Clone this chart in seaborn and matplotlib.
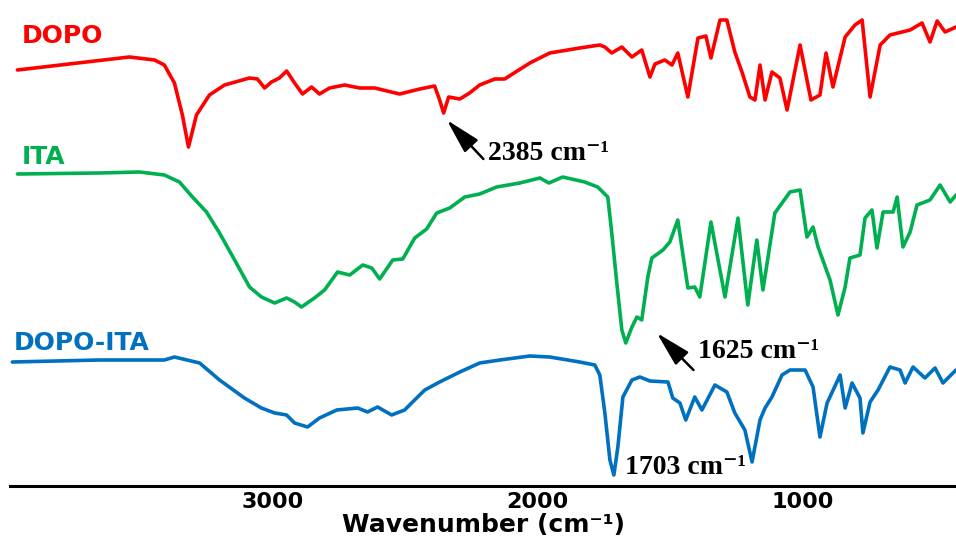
import numpy as np
import pandas as pd
import matplotlib
matplotlib.use("Agg")
import matplotlib.pyplot as plt
import seaborn as sns

# FTIR spectra (wavenumber in cm-1, transmittance in arbitrary units)
dopo_wn = [3962, 3540, 3445, 3408, 3370, 3340, 3317, 3287, 3238, 3181, 3087, 3057, 3030, 3004,
           2974, 2947, 2917, 2887, 2853, 2823, 2785, 2728, 2672, 2615, 2521, 2445, 2389, 2370,
           2355, 2336, 2294, 2257, 2219, 2162, 2125, 2030, 1955, 1842, 1766, 1747, 1721, 1683,
           1645, 1608, 1577, 1558, 1521, 1494, 1472, 1434, 1396, 1366, 1347, 1313, 1287, 1257,
           1230, 1200, 1181, 1162, 1143, 1117, 1087, 1060, 1011, 970, 936, 913, 887, 841, 804,
           777, 747, 709, 672, 596, 551, 521, 494, 464, 423]
dopo_t = [86, 99, 96, 91, 73, 41, 9, 41, 61, 71, 78, 77, 68, 74,
          78, 85, 73, 62, 69, 62, 68, 71, 68, 68, 62, 67, 70, 56,
          43, 59, 57, 63, 71, 77, 77, 93, 103, 108, 111, 109, 103, 109,
          99, 106, 79, 92, 96, 91, 103, 59, 118, 120, 98, 136, 136, 104,
          84, 59, 56, 91, 56, 84, 78, 46, 111, 56, 61, 103, 69, 119, 131,
          136, 59, 111, 121, 126, 133, 114, 135, 124, 129]

ita_wn = [3962, 3653, 3502, 3408, 3351, 3302, 3249, 3200, 3143, 3087, 3042, 2992, 2947, 2917,
          2891, 2842, 2804, 2755, 2709, 2660, 2626, 2596, 2547, 2509, 2464, 2419, 2381, 2332,
          2275, 2219, 2155, 2068, 1992, 1958, 1906, 1823, 1774, 1736, 1721, 1702, 1683, 1668,
          1645, 1626, 1608, 1585, 1570, 1528, 1502, 1472, 1434, 1408, 1389, 1347, 1294, 1245,
          1208, 1174, 1151, 1106, 1049, 1011, 985, 962, 943, 898, 868, 841, 823, 785, 766,
          740, 721, 698, 660, 645, 623, 596, 570, 521, 483, 445, 423]
ita_t = [182, 183, 184, 181, 174, 159, 144, 123, 96, 69, 59, 53, 58, 54,
         49, 58, 66, 84, 81, 91, 88, 77, 96, 97, 118, 127, 143, 148,
         159, 162, 169, 173, 178, 173, 179, 174, 169, 159, 123, 73, 26, 13,
         29, 39, 36, 79, 98, 106, 114, 136, 68, 69, 59, 134, 59, 138,
         51, 116, 66, 143, 164, 166, 119, 129, 109, 76, 41, 69, 98, 101, 138,
         146, 108, 144, 144, 159, 109, 124, 151, 156, 171, 154, 161]

dopo_ita_wn = [3981, 3653, 3408, 3370, 3275, 3200, 3106, 3042, 2992, 2947, 2917, 2868, 2823,
               2758, 2679, 2642, 2604, 2551, 2502, 2472, 2426, 2370, 2294, 2219, 2143, 2030,
               1955, 1842, 1785, 1766, 1747, 1728, 1713, 1698, 1679, 1645, 1615, 1577, 1509,
               1491, 1464, 1442, 1408, 1381, 1332, 1287, 1257, 1219, 1192, 1162, 1143, 1117,
               1079, 1049, 992, 962, 936, 909, 860, 841, 815, 785, 774, 747, 717, 672, 634,
               615, 585, 540, 502, 472, 423]
dopo_ita_t = [124, 126, 126, 129, 123, 106, 88, 78, 73, 71, 63, 59, 68,
              76, 78, 74, 79, 71, 76, 84, 96, 104, 114, 123, 126, 130,
              129, 124, 121, 111, 73, 26, 11, 39, 89, 106, 109, 105, 104,
              88, 83, 66, 89, 76, 101, 94, 73, 56, 24, 66, 78, 89,
              111, 116, 116, 99, 49, 83, 111, 78, 103, 88, 53, 84, 96, 119, 116,
              103, 119, 108, 118, 103, 116]

names = ["DOPO", "ITA", "DOPO-ITA"]
colors = ["#FF0000", "#00B050", "#0070C0"]
offsets = [330, 130, 0]

sns.set_style("white")
plt.rcParams["font.family"] = ["DejaVu Sans"]
plt.rcParams["text.color"] = "black"
plt.rcParams["xtick.color"] = "black"
plt.rcParams["axes.labelcolor"] = "black"

fig = plt.figure(figsize=(9.56, 5.43), dpi=100)
ax = fig.add_axes([10 / 956, 57 / 543, 946 / 956, 486 / 543])

for wn, t, name, col, off in zip([dopo_wn, ita_wn, dopo_ita_wn], [dopo_t, ita_t, dopo_ita_t],
                                 names, colors, offsets):
    df = pd.DataFrame({"wn": wn, "t": np.array(t) + off})
    sns.lineplot(data=df, x="wn", y="t", color=col, lw=2.6, ax=ax,
                 solid_joinstyle="round", solid_capstyle="round")

ax.set_xlim(3990, 423)
ax.set_ylim(0, 486)

# curve labels
ax.text(3947, 450, "DOPO", color=colors[0], fontsize=18, fontweight="bold", va="center")
ax.text(3947, 329, "ITA", color=colors[1], fontsize=18, fontweight="bold", va="center")
ax.text(3974, 143, "DOPO-ITA", color=colors[2], fontsize=18, fontweight="bold", va="center")

# peak annotations
serif = ["Liberation Serif", "DejaVu Serif"]
arrow = dict(arrowstyle="-|>,head_length=1.35,head_width=0.35", color="black", lw=1.8,
             mutation_scale=16, shrinkA=0, shrinkB=0)
ax.annotate("", xy=(2343, 366), xytext=(2205, 327), arrowprops=arrow)
ax.text(2189, 333, "2385 cm⁻¹", family=serif, fontsize=20, fontweight="bold", va="center")
ax.annotate("", xy=(1551, 153), xytext=(1413, 116), arrowprops=arrow)
ax.text(1396, 134, "1625 cm⁻¹", family=serif, fontsize=20, fontweight="bold", va="center")
ax.text(1672, 19, "1703 cm⁻¹", family=serif, fontsize=20, fontweight="bold", va="center")

# axis styling
for s in ["left", "right", "top"]:
    ax.spines[s].set_visible(False)
ax.spines["bottom"].set_linewidth(2.2)
ax.spines["bottom"].set_color("black")
ax.set_yticks([])
ax.set_xticks([3000, 2000, 1000])
ax.set_xticks([3500, 2500, 1500, 500], minor=True)
ax.tick_params(axis="x", which="major", direction="in", length=4, width=2.5, labelsize=16, pad=4)
ax.tick_params(axis="x", which="minor", direction="in", length=2, width=1)
for lbl in ax.get_xticklabels():
    lbl.set_fontweight("bold")
ax.set_xlabel("Wavenumber (cm⁻¹)", fontsize=18, fontweight="bold", labelpad=1)
ax.set_ylabel("")

fig.savefig("out.png", dpi=100)
